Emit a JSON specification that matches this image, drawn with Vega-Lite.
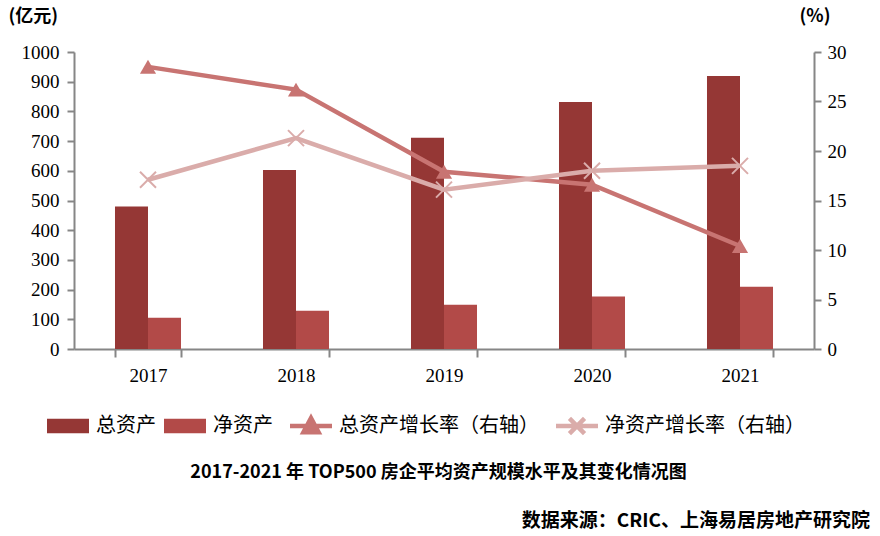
{
  "$schema": "https://vega.github.io/schema/vega-lite/v6.json",
  "width": 740,
  "height": 297,
  "autosize": "none",
  "padding": {"left": 74, "top": 52, "right": 66, "bottom": 187},
  "background": "white",
  "config": {
    "view": {"stroke": null},
    "axis": {"grid": false, "domainColor": "#868686", "domainWidth": 2, "tickColor": "#868686", "tickWidth": 2, "labelColor": "#000000", "labelFont": "Liberation Serif", "labelFontSize": 19}
  },
  "datasets": {
    "bars": [
      {"year": "2017", "series": "总资产", "value": 480},
      {"year": "2017", "series": "净资产", "value": 105},
      {"year": "2018", "series": "总资产", "value": 603},
      {"year": "2018", "series": "净资产", "value": 129},
      {"year": "2019", "series": "总资产", "value": 711},
      {"year": "2019", "series": "净资产", "value": 149},
      {"year": "2020", "series": "总资产", "value": 832},
      {"year": "2020", "series": "净资产", "value": 177},
      {"year": "2021", "series": "总资产", "value": 919},
      {"year": "2021", "series": "净资产", "value": 210}
    ],
    "rates": [
      {"year": "2017", "series": "总资产增长率（右轴）", "value": 28.5},
      {"year": "2018", "series": "总资产增长率（右轴）", "value": 26.2},
      {"year": "2019", "series": "总资产增长率（右轴）", "value": 17.9},
      {"year": "2020", "series": "总资产增长率（右轴）", "value": 16.6},
      {"year": "2021", "series": "总资产增长率（右轴）", "value": 10.4},
      {"year": "2017", "series": "净资产增长率（右轴）", "value": 17.1},
      {"year": "2018", "series": "净资产增长率（右轴）", "value": 21.3},
      {"year": "2019", "series": "净资产增长率（右轴）", "value": 16.1},
      {"year": "2020", "series": "净资产增长率（右轴）", "value": 18.0},
      {"year": "2021", "series": "净资产增长率（右轴）", "value": 18.5}
    ]
  },
  "title": {
    "text": "数据来源：CRIC、上海易居房地产研究院",
    "orient": "bottom",
    "anchor": "end",
    "frame": "group",
    "offset": 31,
    "dx": 56,
    "font": "Noto Sans CJK SC",
    "fontSize": 19,
    "fontWeight": "bold",
    "color": "#000000"
  },
  "layer": [
    {
      "data": {"name": "bars"},
      "mark": {"type": "bar"},
      "encoding": {
        "x": {
          "field": "year", "type": "nominal",
          "scale": {"paddingInner": 0.554, "paddingOuter": 0.277},
          "axis": {
            "title": "2017-2021 年 TOP500 房企平均资产规模水平及其变化情况图",
            "titleX": 364, "titleY": 123, "titleAlign": "center", "titleBaseline": "middle",
            "titleFont": "Noto Sans CJK SC", "titleFontSize": 18, "titleFontWeight": "bold", "titleColor": "#000000",
            "labelAngle": 0, "labelPadding": 9, "tickSize": 8, "tickBand": "extent"
          }
        },
        "xOffset": {"field": "series", "type": "nominal", "sort": ["总资产", "净资产"], "scale": {"paddingInner": 0, "paddingOuter": 0}},
        "y": {
          "field": "value", "type": "quantitative",
          "scale": {"domain": [0, 1000], "nice": false},
          "axis": {
            "values": [0, 100, 200, 300, 400, 500, 600, 700, 800, 900, 1000],
            "format": "d",
            "title": "(亿元)", "titleAngle": 0, "titleX": -66, "titleY": -36, "titleAlign": "left", "titleBaseline": "middle",
            "titleFont": "Noto Sans CJK SC", "titleFontSize": 18, "titleFontWeight": "bold", "titleColor": "#000000",
            "tickSize": 7, "labelPadding": 8
          }
        },
        "color": {
          "field": "series", "type": "nominal",
          "scale": {
            "domain": ["总资产", "净资产", "总资产增长率（右轴）", "净资产增长率（右轴）"],
            "range": ["#953735", "#B24A48", "#C87472", "#DAACAA"]
          },
          "legend": {
            "title": null,
            "orient": "none",
            "legendX": -16,
            "legendY": 364,
            "direction": "horizontal",
            "columns": 4,
            "gridAlign": "none",
            "padding": 0,
            "symbolSize": 1764,
            "symbolStrokeWidth": 0,
            "labelOffset": 18,
            "labelLimit": 400,
            "columnPadding": 8,
            "labelFont": "Noto Sans CJK SC",
            "labelFontSize": 20,
            "labelColor": "#000000",
            "encode": {
              "symbols": {
                "update": {
                  "shape": {"signal": "datum.value === '总资产' || datum.value === '净资产' ? 'M-1,-0.35H1V0.35H-1Z' : datum.value === '总资产增长率（右轴）' ? 'M-1,0H1M0,-0.38L0.36,0.3H-0.36Z' : 'M-1,0H1M-0.36,-0.36L0.36,0.36M-0.36,0.36L0.36,-0.36'"},
                  "fill": {"signal": "datum.value === '净资产增长率（右轴）' ? 'transparent' : scale('color', datum.value)"},
                  "stroke": {"signal": "scale('color', datum.value)"},
                  "strokeWidth": {"signal": "datum.value === '总资产' || datum.value === '净资产' ? 0 : 4.5"},
                  "opacity": {"value": 1},
                  "fillOpacity": {"value": 1},
                  "strokeOpacity": {"value": 1}
                }
              }
            }
          }
        }
      }
    },
    {
      "data": {"name": "rates"},
      "layer": [
        {
          "mark": {"type": "line", "strokeWidth": 4.5},
          "encoding": {
            "x": {"field": "year", "type": "nominal"},
            "y": {
              "field": "value", "type": "quantitative",
              "scale": {"domain": [0, 30], "nice": false},
              "axis": {
                "orient": "right",
                "values": [0, 5, 10, 15, 20, 25, 30],
                "title": "(%)", "titleAngle": 0, "titleX": -15, "titleY": -36, "titleAlign": "left", "titleBaseline": "middle",
                "titleFont": "Noto Sans CJK SC", "titleFontSize": 18, "titleFontWeight": "bold", "titleColor": "#000000",
                "tickSize": 7, "labelPadding": 6
              }
            },
            "color": {"field": "series", "type": "nominal"}
          }
        },
        {
          "transform": [{"filter": "datum.series === '总资产增长率（右轴）'"}],
          "mark": {"type": "point", "shape": "triangle-up", "filled": true, "size": 260, "color": "#C87472", "opacity": 1},
          "encoding": {
            "x": {"field": "year", "type": "nominal"},
            "y": {"field": "value", "type": "quantitative"}
          }
        },
        {
          "transform": [{"filter": "datum.series === '净资产增长率（右轴）'"}],
          "mark": {"type": "point", "shape": "M-1,-1L1,1M-1,1L1,-1", "filled": false, "size": 256, "strokeWidth": 2, "color": "#DAACAA", "opacity": 1},
          "encoding": {
            "x": {"field": "year", "type": "nominal"},
            "y": {"field": "value", "type": "quantitative"}
          }
        }
      ]
    }
  ],
  "resolve": {"scale": {"y": "independent"}}
}
